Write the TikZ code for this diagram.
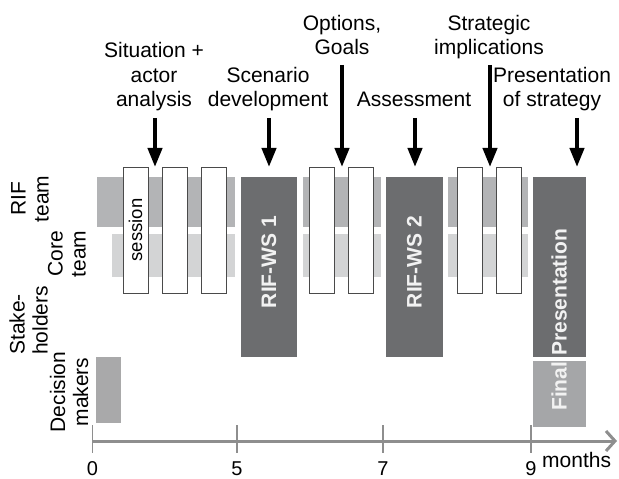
\documentclass[tikz,border=0pt]{standalone}
\usepackage{fontspec}
\setmainfont{Liberation Sans}
\usetikzlibrary{arrows.meta}
\definecolor{bandA}{HTML}{B3B4B6}
\definecolor{bandB}{HTML}{D3D4D5}
\definecolor{darkbox}{HTML}{6C6D6F}
\definecolor{finalbox}{HTML}{A5A6A8}
\definecolor{dmbox}{HTML}{A9A9AA}
\definecolor{axisgray}{HTML}{8E8E8E}
\definecolor{edgegray}{HTML}{4A4A4A}
\definecolor{boxtext}{HTML}{F2F2F2}
\begin{document}
\begin{tikzpicture}[x=1bp,y=-1bp,
  toplbl/.style={font=\fontsize{21bp}{24.5bp}\selectfont, align=center, inner sep=0pt, anchor=base},
  sidelbl/.style={font=\fontsize{21bp}{23bp}\selectfont, inner sep=0pt, rotate=90},
  wbox/.style={draw=edgegray, line width=0.9bp, fill=white, minimum width=25bp, minimum height=126bp, inner sep=0pt},
  dbox/.style={fill=darkbox, inner sep=0pt},
  boxlbl/.style={font=\fontsize{21bp}{25bp}\selectfont\bfseries, text=boxtext, inner sep=0pt, rotate=90},
  bigarrow/.style={line width=4bp, -{Triangle[length=19bp,width=14bp]}},
  tickline/.style={draw=axisgray, line width=1.5bp},
  ticklbl/.style={font=\fontsize{20bp}{24bp}\selectfont, inner sep=0pt, anchor=base}
]
\useasboundingbox (0,0) rectangle (619,479);

% background bands
\fill[bandA] (97,177) rectangle (235,227);
\fill[bandB] (112,234) rectangle (235,277);
\fill[bandA] (303,177) rectangle (381,227);
\fill[bandB] (303,234) rectangle (381,277);
\fill[bandA] (448,177) rectangle (528,227);
\fill[bandB] (448,234) rectangle (528,277);

% session boxes
\node[wbox] (s1) at (135.5,230) {};
\node[font=\fontsize{18.5bp}{20bp}\selectfont, inner sep=0pt, rotate=90] (sesslbl) at (s1.center) {session};
\node[wbox] (s2) at (174.5,230) {};
\node[wbox] (s3) at (213.5,230) {};
\node[wbox] (s4) at (321.5,230) {};
\node[wbox] (s5) at (360.5,230) {};
\node[wbox] (s6) at (469.5,230) {};
\node[wbox] (s7) at (508.5,230) {};

% workshops
\node[dbox, minimum width=56bp, minimum height=180bp] (ws1) at (269,267) {};
\node[boxlbl] (ws1lbl) at (269,262) {RIF-WS 1};
\node[dbox, minimum width=57bp, minimum height=180bp] (ws2) at (414.5,267) {};
\node[boxlbl] (ws2lbl) at (414.5,262) {RIF-WS 2};
\node[dbox, minimum width=53bp, minimum height=180bp] (pres) at (559.5,267) {};
\node[fill=finalbox, inner sep=0pt, minimum width=53bp, minimum height=66bp] (final) at (559.5,394) {};
\node[boxlbl, anchor=west] (finlbl) at (559,411) {Final};
\node[boxlbl, anchor=west] (preslbl) at (559,356) {Presentation};

% decision makers box
\node[fill=dmbox, inner sep=0pt, minimum width=25bp, minimum height=66bp] (dm) at (108.5,390) {};

% side labels
\node[sidelbl, align=center] (riflbl) at (30,199) {RIF\\team};
\node[sidelbl, align=center] (corelbl) at (67,254) {Core\\team};
\node[sidelbl, align=left, anchor=west] (stklbl) at (28.5,355) {Stake-\\holders};
\node[sidelbl, align=center] (declbl) at (69,392) {Decision\\makers};

% top labels (anchor at the baseline of the last line)
\node[toplbl] (sit) at (154,107) {Situation +\\actor\\analysis};
\node[toplbl] (scen) at (268,107) {Scenario\\development};
\node[toplbl] (opt) at (342,55) {Options,\\Goals};
\node[toplbl] (ass) at (414,107) {Assessment};
\node[toplbl] (strat) at (489,55) {Strategic\\implications};
\node[toplbl] (prs) at (552,107) {Presentation\\of strategy};

% arrows
\coordinate (a1s) at (155,118); \coordinate (a1e) at (155,167);
\coordinate (a2s) at (269,118); \coordinate (a2e) at (269,167);
\coordinate (a3s) at (342,65);  \coordinate (a3e) at (342,167);
\coordinate (a4s) at (415,118); \coordinate (a4e) at (415,167);
\coordinate (a5s) at (490,65);  \coordinate (a5e) at (490,167);
\coordinate (a6s) at (577,118); \coordinate (a6e) at (577,167);
\draw[bigarrow] (a1s) -- (a1e);
\draw[bigarrow] (a2s) -- (a2e);
\draw[bigarrow] (a3s) -- (a3e);
\draw[bigarrow] (a4s) -- (a4e);
\draw[bigarrow] (a5s) -- (a5e);
\draw[bigarrow] (a6s) -- (a6e);

% axis
\coordinate (ax0) at (92.5,441);
\coordinate (axE) at (617,441);
\draw[draw=axisgray, line width=3bp, -{Straight Barb[length=9bp,width=20bp,line width=3bp]}] (ax0) -- (axE);
\foreach \xx/\nm/\tx in {92.5/t0/0, 237/t5/5, 383/t7/7, 531/t9/9} {
  \coordinate (\nm a) at (\xx,425);
  \coordinate (\nm b) at (\xx,453);
  \draw[tickline] (\nm a) -- (\nm b);
  \node[ticklbl] (\nm l) at (\xx,475.5) {\tx};
}
\node[font=\fontsize{21bp}{25bp}\selectfont, inner sep=0pt, anchor=base west] (months) at (542,467) {months};
\end{tikzpicture}
\end{document}
